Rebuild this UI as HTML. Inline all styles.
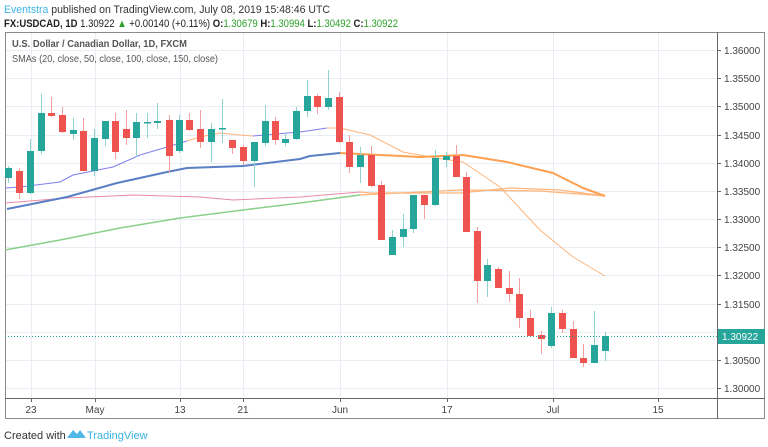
<!DOCTYPE html>
<html><head><meta charset="utf-8"><style>
body{margin:0;width:768px;height:447px;background:#fff;overflow:hidden;font-family:"Liberation Sans",sans-serif}
svg{position:absolute;left:0;top:0}
</style></head><body>
<svg width="768" height="447" viewBox="0 0 768 447" font-family="Liberation Sans, sans-serif">
<text x="4" y="13" font-size="11" fill="#333" textLength="326" lengthAdjust="spacingAndGlyphs"><tspan fill="#3bb3e4">Eventstra</tspan> published on TradingView.com, July 08, 2019 15:48:46 UTC</text>
<text x="4" y="27" font-size="11" fill="#222" font-weight="bold" textLength="394" lengthAdjust="spacingAndGlyphs">FX:USDCAD, 1D <tspan font-weight="normal">1.30922 </tspan><tspan fill="#2aa02a">▲</tspan><tspan font-weight="normal"> +0.00140 (+0.11%) </tspan>O:<tspan fill="#2aa02a" font-weight="normal">1.30679</tspan> H:<tspan fill="#2aa02a" font-weight="normal">1.30994</tspan> L:<tspan fill="#2aa02a" font-weight="normal">1.30492</tspan> C:<tspan fill="#2aa02a" font-weight="normal">1.30922</tspan></text>
<g id="grid" stroke="#e8eef3" stroke-width="1"></g>
<rect x="5.5" y="32.5" width="759" height="386" fill="none" stroke="#8a8a8a"/>
<line x1="717.5" y1="32" x2="717.5" y2="419" stroke="#666"/>
<line x1="5" y1="398.5" x2="765" y2="398.5" stroke="#666"/>
<text x="12" y="47" font-size="10.5" fill="#555" font-weight="bold" textLength="175" lengthAdjust="spacingAndGlyphs">U.S. Dollar / Canadian Dollar, 1D, FXCM</text>
<text x="12" y="62" font-size="10.5" fill="#555" textLength="206" lengthAdjust="spacingAndGlyphs">SMAs (20, close, 50, close, 100, close, 150, close)</text>
<g id="axis" font-size="10" fill="#444"></g>
<g fill="none" stroke-linejoin="round">
<polyline stroke="#7f7ff0" stroke-width="1" points="5,188 20,187 60,182 73,175 113,167 140,155 167,147 187,141"/>
<polyline stroke="#ffb47a" stroke-width="1" points="187,141 200,137 220,133 240,135 253,136"/>
<polyline stroke="#7f7ff0" stroke-width="1" points="253,136 300,132 327,128"/>
<polyline stroke="#ffb47a" stroke-width="1" points="327,128 340,128 370,135 403,152 430,157 463,162 500,187 540,230 573,257 605,276"/>
<polyline stroke="#e88aa8" stroke-width="1" points="5,203 67,198 133,195 200,197 233,200 300,197 360,192"/>
<polyline stroke="#ffb47a" stroke-width="1.2" points="360,192 370,193 460,193 510,188 560,190 605,196"/>
<polyline stroke="#8ad08a" stroke-width="1.5" points="5,250 60,240 120,228 180,218 243,210 300,203 360,195"/>
<polyline stroke="#ffb47a" stroke-width="1.2" points="360,195 460,190 540,191 605,196"/>
<polyline stroke="#5b7fc4" stroke-width="2" points="7,209 67,197 117,183 167,172 187,168 243,166 300,159 310,156 340,153"/>
<polyline stroke="#ff9f50" stroke-width="2" points="340,153 420,157 463,155 507,162 553,173 583,188 605,196"/>
</g>
<g id="candles"></g>
<line x1="5" y1="336.5" x2="717" y2="336.5" stroke="#26a69a" stroke-dasharray="1,2"/>
<rect x="718" y="329" width="47" height="15" fill="#26a69a"/>
<text x="722" y="340" font-size="10" fill="#fff">1.30922</text>
<text x="4" y="439" font-size="11" fill="#333">Created with</text>
<path d="M67 438 L73 430 L77 434 L80 430 L86 438 Z" fill="#4fb8e6"/>
<text x="87" y="439" font-size="11" fill="#3bb3e4">TradingView</text>
</svg>
<script>
var ns="http://www.w3.org/2000/svg";
function el(p,t,a){var e=document.createElementNS(ns,t);for(var k in a)e.setAttribute(k,a[k]);p.appendChild(e);return e;}
var g=document.getElementById('grid'),ax=document.getElementById('axis');
var prices=["1.36000","1.35500","1.35000","1.34500","1.34000","1.33500","1.33000","1.32500","1.32000","1.31500","1.31000","1.30500","1.30000"];
prices.forEach(function(p,i){var y=Math.round(50+i*28.17)+0.5;
el(g,'line',{x1:6,y1:y,x2:717,y2:y});
el(ax,'line',{x1:717,y1:y,x2:721,y2:y,stroke:'#666'});
var t=el(ax,'text',{x:724,y:y+3.5});t.textContent=p;});
[[31,"23"],[95,"May"],[180,"13"],[243,"21"],[340,"Jun"],[447,"17"],[553,"Jul"],[658,"15"]].forEach(function(d){
el(g,'line',{x1:d[0]+0.5,y1:33,x2:d[0]+0.5,y2:398});
el(ax,'line',{x1:d[0]+0.5,y1:398,x2:d[0]+0.5,y2:402,stroke:'#666'});
var t=el(ax,'text',{x:d[0],y:413,'text-anchor':'middle'});t.textContent=d[1];});
var C=[[8,1,168,178,166,183],[19,0,171,193,168,199],[30,1,151,193,139,194],[41,1,113,151,94,154],[51,0,113,116,97,117],[62,0,115,132,107,133],[73,1,130,134,118,140],[83,0,131,171,118,171],[94,1,138,171,129,176],[105,1,121,139,121,146],[115,0,121,152,113,159],[126,0,129,138,110,145],[136,1,122,138,113,157],[147,1,122,123,113,138],[157,1,121,123,103,129],[169,0,120,156,115,173],[179,1,120,151,115,153],[189,0,120,130,113,131],[200,0,129,142,110,148],[211,1,129,142,123,162],[222,1,128,129,99,143],[232,0,140,148,140,154],[243,0,147,161,145,165],[254,1,142,161,142,187],[265,1,121,143,105,146],[275,0,121,140,117,145],[285,1,139,143,133,146],[296,1,111,139,107,140],[307,1,96,111,80,117],[317,0,96,107,94,114],[328,1,98,107,70,110],[339,0,97,142,92,143],[349,0,142,167,135,173],[360,1,155,167,147,183],[371,0,155,186,146,187],[381,0,185,240,181,240],[392,1,237,255,230,255],[403,1,229,237,214,247],[413,1,195,229,195,233],[424,0,195,205,195,219],[435,1,158,205,150,206],[446,1,156,160,152,167],[456,0,156,177,145,177],[466,0,177,232,172,232],[477,0,231,281,227,303],[487,1,265,281,259,297],[498,0,269,288,267,288],[509,0,288,294,271,302],[519,0,294,318,278,328],[530,0,318,336,310,336],[541,0,335,339,331,354],[551,1,313,346,307,348],[562,0,313,329,310,333],[573,0,329,358,321,358],[583,0,358,363,344,367],[594,1,345,363,311,363],[605,1,336,351,332,361]];
var cg=document.getElementById('candles');
C.forEach(function(c){var col=c[1]?'#26a69a':'#ef5350',wc=c[1]?'#8fd3cc':'#f5a09e';
el(cg,'line',{x1:c[0]+0.5,y1:c[4],x2:c[0]+0.5,y2:c[5],stroke:wc});
el(cg,'rect',{x:c[0]-3,y:c[2],width:7,height:Math.max(1.5,c[3]-c[2]),fill:col});});
</script>
</body></html>
